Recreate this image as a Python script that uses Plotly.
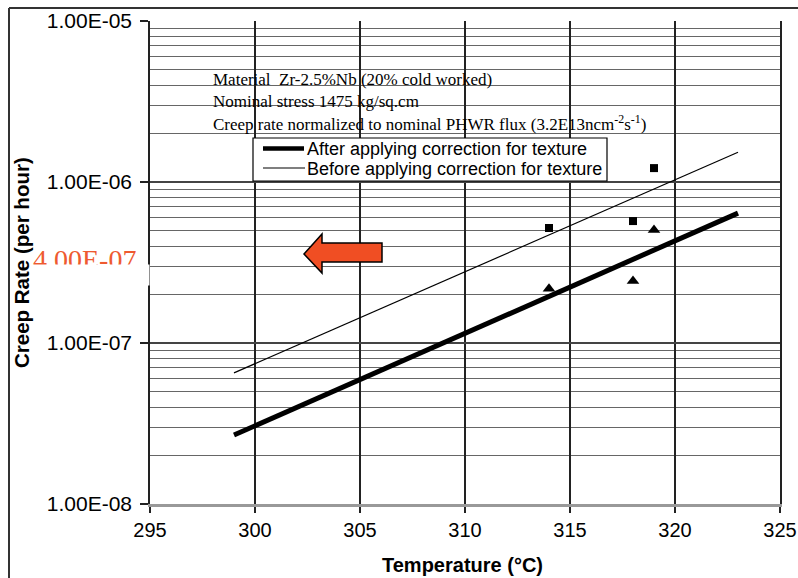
import plotly.graph_objects as go

# ---- data ----
line_temp = [299, 323]
after_rate = [2.68e-8, 6.41e-7]     # thick line: after texture correction
before_rate = [6.52e-8, 1.53e-6]    # thin line: before texture correction

sq_temp = [314, 318, 319]
sq_rate = [5.18e-7, 5.72e-7, 1.22e-6]

tri_temp = [314, 318, 319]
tri_rate = [2.17e-7, 2.43e-7, 5.03e-7]

x_ticks = [295, 300, 305, 310, 315, 320, 325]
y_ticks = [1e-8, 1e-7, 1e-6, 1e-5]
y_ticktext = ["1.00E-08", "1.00E-07", "1.00E-06", "1.00E-05"]
y_minor = [k * 10.0 ** e for e in (-8, -7, -6) for k in range(2, 10)]

legend_names = ["After applying correction for texture",
                "Before applying correction for texture"]
info_lines = [
    "Material  Zr-2.5%Nb (20% cold worked)",
    "Nominal stress 1475 kg/sq.cm",
    "Creep rate normalized to nominal PHWR flux (3.2E13ncm<sup>-2</sup>s<sup>-1</sup>)",
]

# ---- layout geometry (window pixels; body margin removed by post_script) ----
OFF = 0
WIN_W, WIN_H = 798, 578
W, H = WIN_W - OFF, WIN_H - OFF
L, R, T, B = 150, 780, 21, 504   # plot area in window pixels


def px(x):
    return (x - L) / (R - L)


def py(y):
    return (B - y) / (B - T)


SANS = "Liberation Sans, Arial, sans-serif"
SERIF = "Liberation Serif, Times New Roman, serif"

fig = go.Figure()
fig.add_trace(go.Scatter(x=line_temp, y=after_rate, mode="lines",
                         line=dict(color="black", width=5),
                         name=legend_names[0], showlegend=False))
fig.add_trace(go.Scatter(x=line_temp, y=before_rate, mode="lines",
                         line=dict(color="black", width=1.2),
                         name=legend_names[1], showlegend=False))
fig.add_trace(go.Scatter(x=sq_temp, y=sq_rate, mode="markers",
                         marker=dict(symbol="square", size=8, color="black"),
                         showlegend=False))
fig.add_trace(go.Scatter(x=tri_temp, y=tri_rate, mode="markers",
                         marker=dict(symbol="triangle-up", size=11, color="black"),
                         showlegend=False))

annotations = []
for i, t in enumerate(info_lines):
    annotations.append(dict(text=t, xref="paper", yref="paper",
                            x=px(211), y=py(79 + 22 * i), xanchor="left", yanchor="middle",
                            showarrow=False,
                            font=dict(family=SERIF, size=17, color="black")))
# legend texts
for i, t in enumerate(legend_names):
    annotations.append(dict(text=t, xref="paper", yref="paper",
                            x=px(305), y=py(149 + 19.5 * i), xanchor="left", yanchor="middle",
                            showarrow=False,
                            font=dict(family=SANS, size=18, color="black")))
# red partially hidden label
annotations.append(dict(text="4.00E-07", xref="paper", yref="paper",
                        x=px(31), y=py(259.5), xanchor="left", yanchor="middle",
                        showarrow=False,
                        font=dict(family=SERIF, size=28, color="#EE5A30")))
annotations.append(dict(text=" ", xref="paper", yref="paper",
                        x=px(26), y=py(263.5), xanchor="left", yanchor="top",
                        showarrow=False, width=122, height=20, bgcolor="white",
                        borderpad=0, font=dict(size=10)))
# axis titles
annotations.append(dict(text="<b>Creep Rate (per hour)</b>", xref="paper", yref="paper",
                        x=px(21), y=py(263), xanchor="center", yanchor="middle",
                        textangle=-90, showarrow=False,
                        font=dict(family=SANS, size=20.5, color="black")))
annotations.append(dict(text="<b>Temperature (°C)</b>", xref="paper", yref="paper",
                        x=px(462), y=py(565), xanchor="center", yanchor="middle",
                        showarrow=False,
                        font=dict(family=SANS, size=20, color="black")))

arrow_pts = [(304, 254), (322, 234), (322, 243), (382, 243), (382, 262),
             (322, 262), (322, 273)]
arrow_path = "M " + " L ".join(f"{px(a):.5f},{py(b):.5f}" for a, b in arrow_pts) + " Z"

shapes = [
    # legend box and swatches
    dict(type="rect", xref="paper", yref="paper", x0=px(253), x1=px(607),
         y0=py(181), y1=py(138), fillcolor="white", line=dict(color="black", width=1.2),
         layer="above"),
    dict(type="line", xref="paper", yref="paper", x0=px(263), x1=px(304),
         y0=py(148.5), y1=py(148.5), line=dict(color="black", width=4.5), layer="above"),
    dict(type="line", xref="paper", yref="paper", x0=px(263), x1=px(305),
         y0=py(168), y1=py(168), line=dict(color="black", width=1.2), layer="above"),
    dict(type="path", xref="paper", yref="paper", path=arrow_path,
         fillcolor="#F04E23", line=dict(color="black", width=1.5), layer="above"),
    # outer frame (left and top edges)
    dict(type="line", xref="paper", yref="paper", x0=px(9), x1=px(9), y0=py(WIN_H + 5),
         y1=py(8), line=dict(color="#333", width=2)),
    dict(type="line", xref="paper", yref="paper", x0=px(9), x1=px(WIN_W + 5), y0=py(8),
         y1=py(8), line=dict(color="#333", width=2)),
]

fig.update_layout(
    width=W, height=H,
    margin=dict(l=L - OFF, r=WIN_W - R, t=T - OFF, b=WIN_H - B, autoexpand=False),
    paper_bgcolor="white", plot_bgcolor="white",
    font=dict(family=SANS, color="black"),
    showlegend=False,
    annotations=annotations,
    shapes=shapes,
    xaxis=dict(range=[295, 325], tickvals=x_ticks, showgrid=True, gridcolor="#222",
               gridwidth=1.5, showline=True, linecolor="#999", linewidth=2.5,
               ticks="outside", ticklen=6, tickcolor="#222", tickwidth=1.5,
               automargin=False,
               tickfont=dict(size=20, family=SANS), zeroline=False),
    yaxis=dict(type="log", range=[-8, -5], tickvals=y_ticks, ticktext=y_ticktext,
               showgrid=True, gridcolor="#444", gridwidth=1.5,
               showline=True, mirror=True, linecolor="#222", linewidth=1.5,
               ticks="outside", ticklen=8, tickcolor="#222", tickwidth=1.5,
               ticklabelstandoff=4, automargin=False,
               tickfont=dict(size=21, family=SANS),
               minor=dict(tickvals=y_minor, showgrid=True, gridcolor="#666",
                          gridwidth=1.3, ticks=""),
               zeroline=False),
)

fig.write_html("out.html",
               config={"displayModeBar": False},
               post_script="document.body.style.margin='0';"
                           "document.body.style.overflow='hidden';")
